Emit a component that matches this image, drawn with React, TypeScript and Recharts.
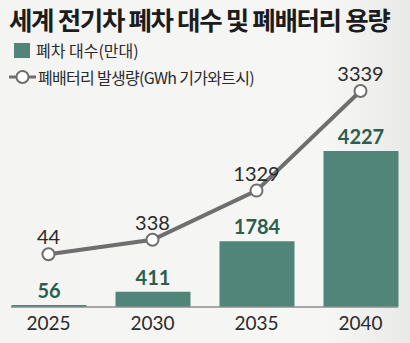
import { ComposedChart, Bar, Line, XAxis, YAxis, LabelList } from 'recharts';

const years = ['2025', '2030', '2035', '2040'];
const scrappedCars = [56, 411, 1784, 4227]; // 만대
const batteryGwh = [44, 338, 1329, 3339];

const chartData = years.map((year, i) => ({
  year,
  cars: scrappedCars[i],
  battery: batteryGwh[i],
}));

const font = 'Lato, "Noto Sans CJK KR", sans-serif';
const barColor = '#52857a';
const lineColor = '#6e6e6e';

export default function App() {
  return (
    <div
      style={{
        position: 'absolute',
        left: 0,
        top: 0,
        width: 410,
        height: 343,
        background: 'linear-gradient(90deg, #f4f4f3 0%, #f6f6f5 80%, #e9e9e8 100%)',
        fontFamily: font,
      }}
    >
      <div
        style={{
          position: 'absolute',
          left: 9,
          top: 0,
          paddingRight: 3,
          lineHeight: 'normal',
          fontFamily: '"Noto Sans CJK KR", sans-serif',
          fontWeight: 700,
          fontSize: 25.5,
          letterSpacing: -1.35,
          color: '#1c1c1c',
          whiteSpace: 'nowrap',
        }}
      >
        세계 전기차 폐차 대수 및 폐배터리 용량
      </div>

      <div style={{ position: 'absolute', left: 14, top: 38, display: 'flex', alignItems: 'center', fontFamily: '"Noto Sans CJK KR", sans-serif', fontSize: 16, color: '#2a2a2a', whiteSpace: 'nowrap' }}>
        <span style={{ display: 'inline-block', width: 16, height: 15, background: barColor, marginRight: 6 }} />
        폐차 대수(만대)
      </div>
      <div style={{ position: 'absolute', left: 8, top: 65, display: 'flex', alignItems: 'center', fontFamily: '"Noto Sans CJK KR", sans-serif', fontSize: 16, color: '#2a2a2a', whiteSpace: 'nowrap', letterSpacing: -0.7, paddingRight: 2 }}>
        <svg width={29} height={16} style={{ marginRight: 1 }}>
          <line x1={1} y1={8} x2={28} y2={8} stroke={lineColor} strokeWidth={3} />
          <circle cx={14.5} cy={8} r={6} fill="#fff" stroke={lineColor} strokeWidth={2} />
        </svg>
        폐배터리 발생량(GWh 기가와트시)
      </div>

      <ComposedChart
        width={410}
        height={343}
        data={chartData}
        margin={{ top: 60, right: 12, bottom: 6, left: 11 }}
        style={{ position: 'absolute', left: 0, top: 0 }}
      >
        <XAxis
          dataKey="year"
          height={30}
          axisLine={{ stroke: '#8c8c8c', strokeWidth: 1.5 }}
          tickLine={false}
          tickMargin={4}
          padding={{ left: -14.5, right: -14.5 }}
          tick={{ fontSize: 19, fill: '#2a2a2a', fontFamily: font }}
        />
        <YAxis yAxisId="cars" hide domain={[0, 6692]} />
        <YAxis yAxisId="battery" hide domain={[-1019, 3964]} />
        <Bar yAxisId="cars" dataKey="cars" fill={barColor} barSize={75} isAnimationActive={false}>
          <LabelList dataKey="cars" position="top" offset={7} fill="#2d5d50" fontSize={20} fontWeight={700} fontFamily={font} />
        </Bar>
        <Line
          yAxisId="battery"
          dataKey="battery"
          type="linear"
          stroke={lineColor}
          strokeWidth={4}
          dot={{ r: 6, fill: '#fff', stroke: lineColor, strokeWidth: 2 }}
          isAnimationActive={false}
        >
          <LabelList dataKey="battery" position="top" offset={10} fill="#2a2a2a" fontSize={20} fontFamily={font} />
        </Line>
      </ComposedChart>
    </div>
  );
}
